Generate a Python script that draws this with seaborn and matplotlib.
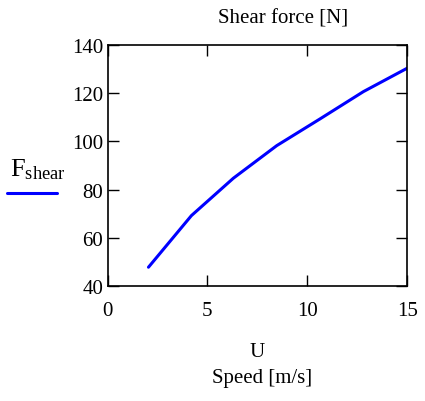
import numpy as np
import pandas as pd
import matplotlib
matplotlib.use("Agg")
import matplotlib.pyplot as plt
from matplotlib.lines import Line2D
import seaborn as sns

# data
speed = [2.05, 4.2, 6.3, 8.47, 10.64, 12.81, 15.0]
shear = [47.8, 69.2, 84.7, 98.2, 109.3, 120.6, 130.3]
x_ticks = [0, 5, 10, 15]
y_ticks = [40, 60, 80, 100, 120, 140]

sns.set_theme(style="white")
plt.rcParams["font.family"] = ["Liberation Serif", "DejaVu Serif"]
plt.rcParams["mathtext.fontset"] = "custom"
plt.rcParams["mathtext.rm"] = "Liberation Serif"
plt.rcParams["text.color"] = "black"

df = pd.DataFrame({"U": speed, "F": shear})

fig = plt.figure(figsize=(4.25, 4.02), dpi=100)
ax = fig.add_axes([0.253, 0.286, 0.705, 0.600])

sns.lineplot(data=df, x="U", y="F", ax=ax, color="#0000ff", linewidth=2.2)

ax.set_xlim(0, 15)
ax.set_ylim(40, 140)
ax.set_xticks(x_ticks)
ax.set_yticks(y_ticks)
ax.tick_params(direction="in", length=8, width=1, colors="black", labelsize=15,
               top=True, right=True, bottom=True, left=True)
ax.tick_params(axis="x", pad=10.5)
ax.tick_params(axis="y", pad=3)
for s in ax.spines.values():
    s.set_color("black")
    s.set_linewidth(1.2)

ax.set_xlabel("")
ax.set_ylabel("")
fig.text(0.667, 0.942, "Shear force [N]", ha="center", va="baseline", fontsize=15)
fig.text(0.606, 0.1127, "U", ha="center", va="baseline", fontsize=15)
fig.text(0.616, 0.0465, "Speed [m/s]", ha="center", va="baseline", fontsize=15)

# legend, Mathcad style: label above the sample line
fig.text(0.0235, 0.562, r"$\mathrm{F_{shear}}$", ha="left", va="baseline", fontsize=19)
fig.add_artist(Line2D([0.017, 0.134], [0.517, 0.517], transform=fig.transFigure,
                      color="#0000ff", linewidth=2.2))

fig.savefig("out.png", dpi=100)
